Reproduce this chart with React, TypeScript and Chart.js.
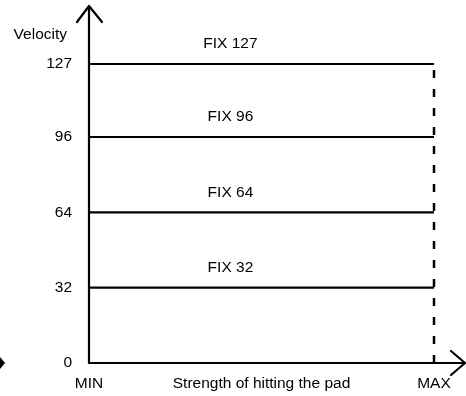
import React, { useEffect, useRef } from "react";
import { Chart, registerables } from "chart.js";

Chart.register(...registerables);

const velocities = [127, 96, 64, 32];
const fixLabels = ["FIX 127", "FIX 96", "FIX 64", "FIX 32"];
const yTicks = [0, 32, 64, 96, 127];
const xTicks = [0, 50, 100];
const xTickLabels = ["MIN", "Strength of hitting the pad", "MAX"];
const xMin = 0;
const xMax = 100;
const yMin = 0;
const yMax = 127;
const fixLabelX = 41;
const yAxisTitle = "Velocity";

const FONT = "'Liberation Sans', Arial, sans-serif";
const INK = "#000";
const FS = 15.5;

const overlay = {
  id: "overlay",
  afterDraw(chart: any) {
    const { ctx } = chart;
    const xs = chart.scales.x;
    const ys = chart.scales.y;
    const x0 = xs.getPixelForValue(xMin);
    const y0 = ys.getPixelForValue(yMin);
    ctx.save();
    ctx.strokeStyle = INK;
    ctx.fillStyle = INK;
    ctx.lineWidth = 2.2;
    ctx.lineCap = "round";
    ctx.lineJoin = "round";
    // y axis with arrow
    ctx.beginPath();
    ctx.moveTo(x0, y0);
    ctx.lineTo(x0, 6);
    ctx.moveTo(x0 - 12, 22);
    ctx.lineTo(x0, 6);
    ctx.lineTo(x0 + 13, 22);
    ctx.stroke();
    // x axis with arrow
    ctx.beginPath();
    ctx.moveTo(x0, y0);
    ctx.lineTo(464, y0);
    ctx.moveTo(451, y0 - 12);
    ctx.lineTo(465, y0);
    ctx.lineTo(451, y0 + 12);
    ctx.stroke();
    // left blob
    ctx.beginPath();
    ctx.moveTo(-4, y0);
    ctx.lineTo(0, y0 - 6);
    ctx.lineTo(5, y0);
    ctx.lineTo(0, y0 + 6);
    ctx.closePath();
    ctx.fill();
    // texts
    ctx.font = `${FS}px ${FONT}`;
    ctx.textBaseline = "middle";
    ctx.textAlign = "right";
    ctx.fillText(yAxisTitle, x0 - 22, 35);
    ctx.textAlign = "center";
    velocities.forEach((v, i) => {
      ctx.fillText(fixLabels[i], xs.getPixelForValue(fixLabelX), ys.getPixelForValue(v) - 20);
    });
    ctx.restore();
  },
};

export default function App() {
  const ref = useRef<HTMLCanvasElement>(null);
  useEffect(() => {
    if (!ref.current) return;
    const datasets: any[] = velocities.map((v) => ({
      data: [
        { x: xMin, y: v },
        { x: xMax, y: v },
      ],
      borderColor: INK,
      borderWidth: 2.2,
      pointRadius: 0,
      clip: false,
    }));
    datasets.push({
      data: [
        { x: xMax, y: yMin },
        { x: xMax, y: yMax },
      ],
      borderColor: INK,
      borderWidth: 2.5,
      borderDash: [8, 11],
      pointRadius: 0,
      clip: false,
    });
    const chart = new Chart(ref.current, {
      type: "line",
      data: { datasets },
      options: {
        animation: false,
        responsive: false,
        maintainAspectRatio: false,
        layout: { padding: { top: 64, right: 32, left: 0, bottom: 0 } },
        plugins: { legend: { display: false }, tooltip: { enabled: false } },
        scales: {
          x: {
            type: "linear",
            min: xMin,
            max: xMax,
            grid: { display: false, drawTicks: false },
            border: { display: false },
            afterBuildTicks: (s: any) => {
              s.ticks = xTicks.map((v) => ({ value: v }));
            },
            afterFit: (s: any) => {
              s.height = 33;
            },
            ticks: {
              autoSkip: false,
              maxRotation: 0,
              padding: 11,
              color: INK,
              font: { size: FS, family: FONT },
              callback: (_v: any, i: number) => xTickLabels[i],
            },
          },
          y: {
            type: "linear",
            min: yMin,
            max: yMax,
            grid: { display: false, drawTicks: false },
            border: { display: false },
            afterBuildTicks: (s: any) => {
              s.ticks = yTicks.map((v) => ({ value: v }));
            },
            afterFit: (s: any) => {
              s.width = 89;
            },
            ticks: {
              autoSkip: false,
              padding: 17,
              color: INK,
              font: { size: FS, family: FONT },
            },
          },
        },
      },
      plugins: [overlay],
    });
    return () => chart.destroy();
  }, []);
  return (
    <div style={{ position: "fixed", left: 0, top: 0, width: 466, height: 396, background: "#fff" }}>
      <canvas ref={ref} width={466} height={396} style={{ display: "block", width: 466, height: 396 }} />
    </div>
  );
}
